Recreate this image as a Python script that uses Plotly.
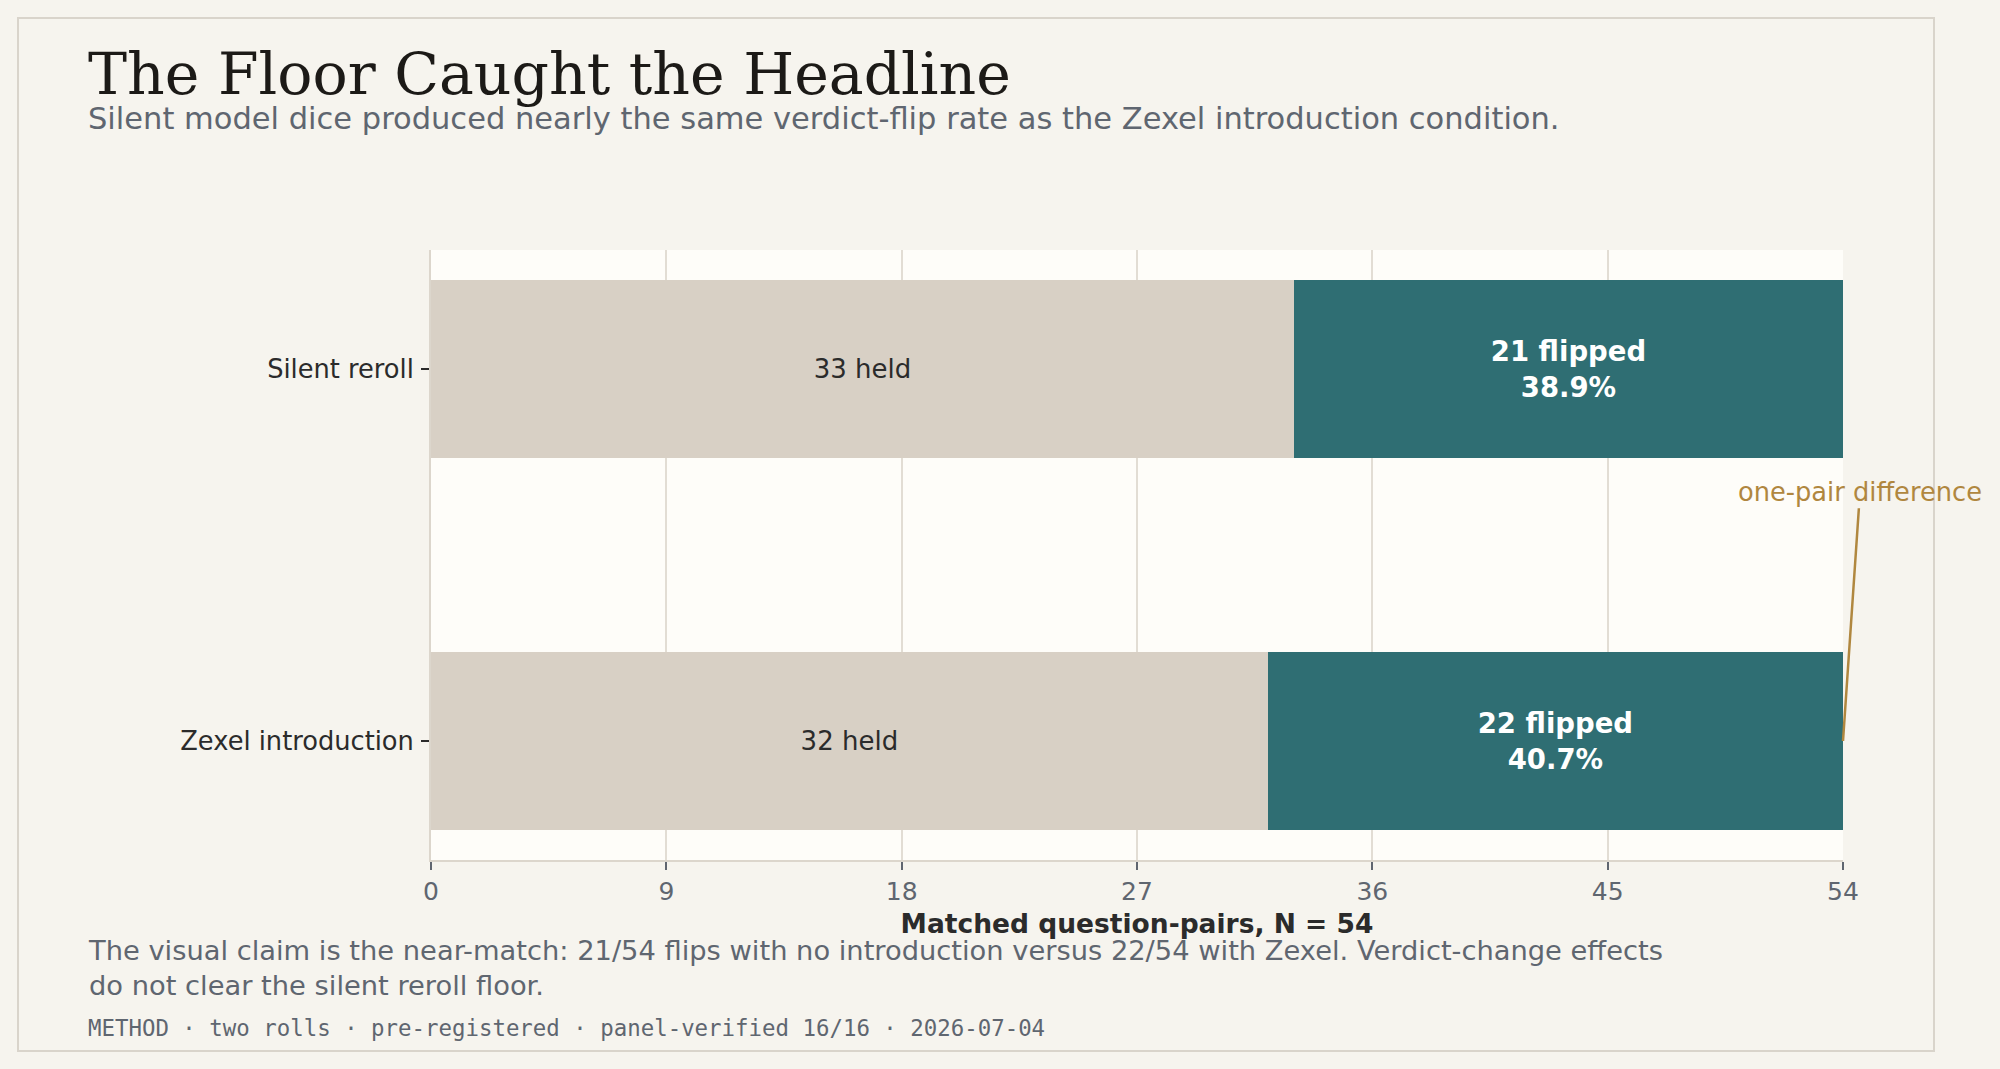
import plotly.graph_objects as go

# data
conditions = ["Zexel introduction", "Silent reroll"]
held = [32, 33]
flipped = [22, 21]
n_pairs = 54
x_ticks = [0, 9, 18, 27, 36, 45, 54]

title = "The Floor Caught the Headline"
subtitle = "Silent model dice produced nearly the same verdict-flip rate as the Zexel introduction condition."
note = ("The visual claim is the near-match: 21/54 flips with no introduction versus 22/54 with Zexel. "
        "Verdict-change effects<br>do not clear the silent reroll floor.")
method = "METHOD · two rolls · pre-registered · panel-verified 16/16 · 2026-07-04"

PAPER = "#f6f4ee"
PLOT = "#fefdf9"
BEIGE = "#d8d0c5"
TEAL = "#2f6e73"
GOLD = "#b0873f"
GRID = "#e2ddd4"
GREY = "#5f6670"
DARK = "#2b2b2b"

W, H = 2000, 1069
L, R, T, B = 431, 157, 250, 209


def px(x):
    return (x - L) / (W - L - R)


def py(y):
    return (H - B - y) / (H - T - B)


held_txt = [f"{h} held" for h in held]
flip_txt = [f"<b>{f} flipped<br>{f / n_pairs * 100:.1f}%</b>" for f in flipped]

fig = go.Figure()
fig.add_trace(go.Bar(
    y=conditions, x=held, orientation="h", width=0.48,
    marker=dict(color=BEIGE, line=dict(width=0)),
    text=held_txt, textposition="inside", insidetextanchor="middle",
    textfont=dict(family="DejaVu Sans", size=26, color=DARK),
    hoverinfo="skip", showlegend=False,
))
fig.add_trace(go.Bar(
    y=conditions, x=flipped, orientation="h", width=0.48,
    marker=dict(color=TEAL, line=dict(width=0)),
    text=flip_txt, textposition="inside", insidetextanchor="middle",
    textfont=dict(family="DejaVu Sans", size=27.5, color="white"),
    hoverinfo="skip", showlegend=False,
))

fig.update_layout(
    width=W, height=H,
    barmode="stack",
    paper_bgcolor=PAPER, plot_bgcolor=PLOT,
    margin=dict(l=L, r=R, t=T, b=B),
    font=dict(family="DejaVu Sans", color=DARK),
    uniformtext=dict(mode=False),
)

fig.update_xaxes(
    range=[0, n_pairs], tickvals=x_ticks, ticktext=[str(v) for v in x_ticks],
    showgrid=True, gridcolor=GRID, gridwidth=1.5,
    showline=True, linecolor="#dcd6cc", linewidth=2,
    ticks="outside", ticklen=8, tickcolor=GREY, tickwidth=1.5,
    tickfont=dict(family="DejaVu Sans", size=25, color=GREY),
    title=dict(text="<b>Matched question-pairs, N = 54</b>", standoff=9,
               font=dict(family="DejaVu Sans", size=26.5, color=DARK)),
    zeroline=False, fixedrange=True,
)
fig.update_yaxes(
    range=[-0.32, 1.32], categoryorder="array", categoryarray=conditions,
    showgrid=False, showline=True, linecolor="#dcd6cc", linewidth=2,
    ticks="outside", ticklen=8, tickcolor=DARK, tickwidth=1.5,
    ticklabelstandoff=2,
    tickfont=dict(family="DejaVu Sans", size=25.7, color=DARK),
    zeroline=False, fixedrange=True,
)

# outer frame
fig.add_shape(type="rect", xref="paper", yref="paper",
              x0=px(18), x1=px(1934), y0=py(1051), y1=py(18),
              line=dict(color="#d9d4cb", width=2), fillcolor="rgba(0,0,0,0)", layer="below")

# callout on the one-pair gap
fig.add_annotation(x=n_pairs, y=0, ax=n_pairs + 0.65, ay=0.67, axref="x", ayref="y",
                   xref="x", yref="y", text="one-pair difference", showarrow=True,
                   arrowhead=0, arrowwidth=2.5, arrowcolor=GOLD,
                   font=dict(family="DejaVu Sans", size=25.7, color=GOLD))

# title block and notes
fig.add_annotation(xref="paper", yref="paper", x=px(86), y=py(74), xanchor="left", yanchor="middle",
                   text=title, showarrow=False,
                   font=dict(family="DejaVu Serif", size=58.5, color="#1c1a17"))
fig.add_annotation(xref="paper", yref="paper", x=px(86), y=py(118), xanchor="left", yanchor="middle",
                   text=subtitle, showarrow=False,
                   font=dict(family="DejaVu Sans", size=30.5, color=GREY))
fig.add_annotation(xref="paper", yref="paper", x=px(86), y=py(968), xanchor="left", yanchor="middle",
                   text=note, showarrow=False, align="left",
                   font=dict(family="DejaVu Sans", size=27.3, color=GREY))
fig.add_annotation(xref="paper", yref="paper", x=px(86), y=py(1028), xanchor="left", yanchor="middle",
                   text=method, showarrow=False,
                   font=dict(family="DejaVu Sans Mono", size=22.4, color=GREY))

fig.write_html("out.html", config={"displayModeBar": False},
               post_script="document.body.style.margin='0';")
